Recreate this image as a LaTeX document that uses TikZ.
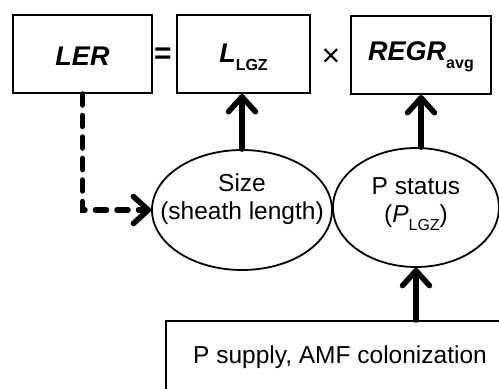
\documentclass[tikz,border=0pt]{standalone}
\usepackage{fontspec}
\setmainfont{Liberation Sans}
\usetikzlibrary{arrows.meta,shapes.geometric}
\newcommand{\lowsub}[1]{\raisebox{-0.3em}{\fontsize{16}{16}\selectfont #1}}
\begin{document}
\begin{tikzpicture}[x=1pt,y=-1pt,
  box/.style={draw, rectangle, line width=2pt, inner sep=0pt},
  ell/.style={draw, ellipse, line width=1.8pt, inner sep=0pt},
  txt/.style={inner sep=0pt, align=center, font=\fontsize{24.5}{28}\selectfont},
  big/.style={inner sep=0pt, font=\fontsize{27}{30}\selectfont\bfseries\itshape},
  thickarrow/.style={line width=5.5pt, line cap=round, -{Straight Barb[length=15pt, width=27pt, round]}},
  dasharrow/.style={line width=5.5pt, line cap=round, dash pattern=on 11pt off 10.5pt, -{Straight Barb[length=15pt, width=27pt, round]}}
]
\useasboundingbox (0,0) rectangle (499,389);
\clip (0,0) rectangle (499,389);
% boxes
\node[box, minimum width=139pt, minimum height=78pt] (ler) at (82.5,54) {};
\node[big] (lertxt) at (82.5,56) {LER};
\node[txt, font=\fontsize{30}{30}\selectfont\bfseries] (eq) at (163,56) {=};
\node[box, minimum width=133pt, minimum height=78pt] (lgz) at (243.5,54) {};
\node[big] (lgztxt) at (243.5,57) {L\lowsub{\bfseries\upshape LGZ}};
\node[txt, font=\fontsize{32}{32}\selectfont] (times) at (331,58) {×};
\node[box, minimum width=140pt, minimum height=78pt] (regr) at (421,55) {};
\node[big] (regrtxt) at (421,57) {REGR\lowsub{\bfseries\upshape avg}};
% ellipses
\node[ell, minimum width=180pt, minimum height=120pt] (size) at (242,210) {};
\node[txt] (sizetxt) at (242,199) {Size\\(sheath length)};
\node[ell, minimum width=166pt, minimum height=119pt] (pst) at (416,207.5) {};
\node[txt] (psttxt) at (416,204) {P status\\(\textit{P}\lowsub{LGZ})};
% bottom box
\node[box, minimum width=364pt, minimum height=99pt] (sup) at (348,370.5) {};
\node[txt] (suptxt) at (340,357) {P supply, AMF colonization};
% connectors
\draw[dasharrow] (ler.south) |- (size.west);
\draw[thickarrow] (size.north) -- (size.north |- lgz.south);
\draw[thickarrow] (regr.south |- pst.north) -- (regr.south);
\draw[thickarrow] (pst.south |- sup.north) -- (pst.south);
\end{tikzpicture}
\end{document}
